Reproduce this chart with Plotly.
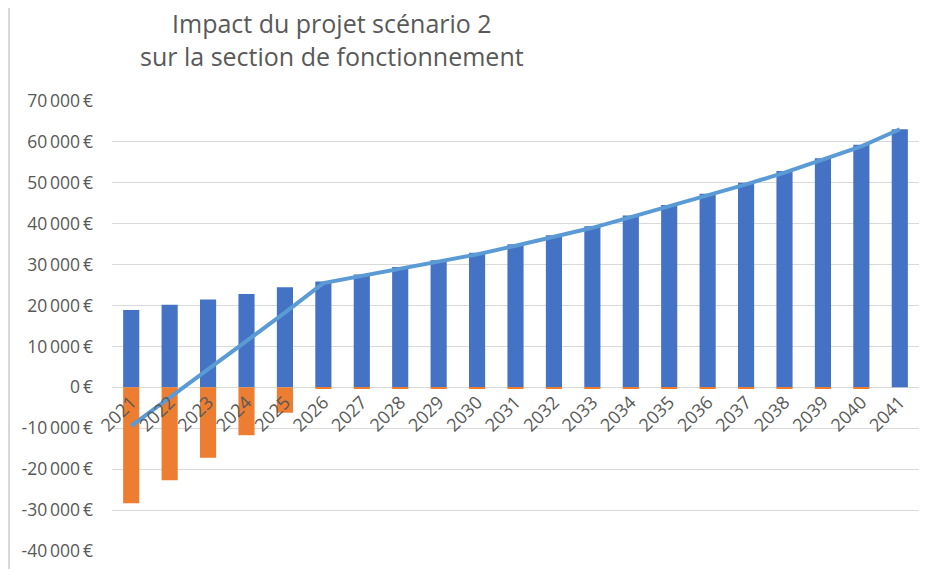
import plotly.graph_objects as go

# données
annees = [str(a) for a in range(2021, 2042)]
recettes = [18900, 20200, 21500, 22800, 24450, 25900, 27600, 29400, 31100, 32900,
            35000, 37200, 39400, 42000, 44600, 47300, 50000, 52900, 56000, 59300, 63100]
charges = [-28300, -22700, -17200, -11700, -6200, -400, -400, -400, -400, -400,
           -400, -400, -400, -400, -400, -400, -400, -400, -400, -400, 0]
solde = [-9400, -2500, 4300, 11100, 18250, 25500, 27200, 29000, 30700, 32500,
         34600, 36800, 39000, 41600, 44200, 46900, 49600, 52500, 55600, 58900, 63100]

y_vals = [70000, 60000, 50000, 40000, 30000, 20000, 10000, 0,
          -10000, -20000, -30000, -40000]
y_text = [f"{v:,}".replace(",", "\u2009") + "\u2009€" for v in y_vals]

GRIS = "#595959"
fig = go.Figure()
fig.add_trace(go.Bar(x=annees, y=recettes, name="Recettes", marker_color="#4472C4",
                     marker_line_width=0, width=0.42))
fig.add_trace(go.Bar(x=annees, y=charges, name="Charges", marker_color="#ED7D31",
                     marker_line_width=0, width=0.42))
fig.add_trace(go.Scatter(x=annees, y=solde, mode="lines", name="Solde",
                         line=dict(color="#5B9BD5", width=4)))

# la page ajoute 8 px de marge autour de la figure
fig.update_layout(
    width=926, height=561,
    barmode="relative",
    showlegend=False,
    plot_bgcolor="white", paper_bgcolor="white",
    margin=dict(l=104, r=15, t=93, b=18),
    font=dict(family="Open Sans, sans-serif", color=GRIS, size=18),
    xaxis=dict(type="category", anchor="free", position=40000 / 110000,
               tickangle=-45, showgrid=False, showline=False, ticks="",
               automargin=False, tickfont=dict(size=18, color=GRIS)),
    yaxis=dict(range=[-40000, 70000], tickvals=y_vals, ticktext=y_text,
               showgrid=True, gridcolor="#D9D9D9", gridwidth=1, zeroline=False,
               automargin=False, ticklabelstandoff=18,
               tickfont=dict(size=17.5, color=GRIS)),
)
fig.add_annotation(text="Impact du projet scénario 2<br>sur la section de fonctionnement",
                   xref="paper", yref="paper", x=220 / 807, y=1 + 61.5 / 450,
                   xanchor="center", yanchor="middle", showarrow=False,
                   font=dict(size=25, color=GRIS))
fig.add_shape(type="line", xref="paper", yref="paper",
              x0=-103 / 807, x1=-103 / 807, y0=-18 / 450, y1=1 + 93 / 450,
              line=dict(color="#D9D9D9", width=2))
fig.write_html("out.html")
